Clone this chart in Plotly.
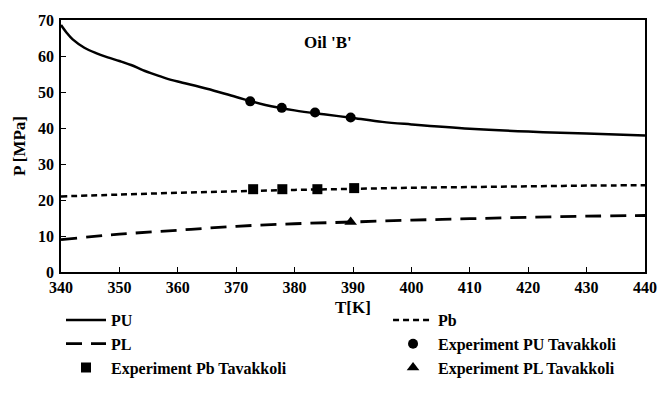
import plotly.graph_objects as go

# Model curves (temperature in K, pressure in MPa)
T_pu = [340, 341, 342, 344, 346, 348, 350, 352, 354, 356, 358, 360, 365, 370,
        375, 380, 385, 390, 395, 400, 410, 420, 430, 440]
PU = [68.6, 66.4, 64.6, 62.3, 60.8, 59.6, 58.6, 57.5, 56.1, 54.9, 53.8, 52.9,
      50.9, 48.6, 46.4, 44.9, 43.8, 42.8, 41.7, 41.0, 39.8, 39.0, 38.5, 37.9]

T_lin = [340, 350, 360, 370, 380, 390, 400, 410, 420, 430, 440]
Pb = [21.0, 21.5, 22.0, 22.4, 22.8, 23.1, 23.4, 23.6, 23.8, 24.0, 24.1]
PL = [9.0, 10.5, 11.6, 12.7, 13.4, 13.9, 14.4, 14.8, 15.2, 15.5, 15.7]

# Experimental points (Tavakkoli)
T_exp_pu = [372.4, 377.8, 383.5, 389.6]
P_exp_pu = [47.4, 45.6, 44.3, 42.9]
T_exp_pb = [372.9, 377.9, 383.9, 390.2]
P_exp_pb = [23.0, 23.0, 23.0, 23.3]
T_exp_pl = [389.6]
P_exp_pl = [13.9]

x_ticks = list(range(340, 441, 10))
y_ticks = list(range(0, 71, 10))

FONT = "Liberation Serif"


def bold(size):
    return dict(family=FONT, size=size, color="black", weight="bold")


fig = go.Figure()
# left legend column: PU, PL, Experiment Pb; right column: Pb, Experiment PU, Experiment PL
fig.add_trace(go.Scatter(x=T_pu, y=PU, mode="lines", name="PU", legend="legend",
                         line=dict(color="black", width=2.5, shape="spline")))
fig.add_trace(go.Scatter(x=T_lin, y=Pb, mode="lines", name="Pb", legend="legend2",
                         line=dict(color="black", width=2.5, dash="6px,4px", shape="spline")))
fig.add_trace(go.Scatter(x=T_lin, y=PL, mode="lines", name="PL", legend="legend",
                         line=dict(color="black", width=2.8, dash="16px,9px", shape="spline")))
fig.add_trace(go.Scatter(x=T_exp_pu, y=P_exp_pu, mode="markers", legend="legend2",
                         name="Experiment PU Tavakkoli",
                         marker=dict(symbol="circle", size=10, color="black")))
fig.add_trace(go.Scatter(x=T_exp_pb, y=P_exp_pb, mode="markers", legend="legend",
                         name="Experiment Pb Tavakkoli",
                         marker=dict(symbol="square", size=10, color="black")))
fig.add_trace(go.Scatter(x=T_exp_pl, y=P_exp_pl, mode="markers", legend="legend2",
                         name="Experiment PL Tavakkoli",
                         marker=dict(symbol="triangle-up", size=11, color="black")))

axis_common = dict(showline=True, linecolor="black", linewidth=1.5, mirror=True,
                   ticks="inside", ticklen=5, tickwidth=1.2, tickcolor="black",
                   showgrid=False, zeroline=False, tickfont=bold(16))

fig.update_xaxes(range=[340, 440], tickvals=x_ticks, ticklabelstandoff=0,
                 **axis_common)
fig.update_yaxes(range=[0, 70], tickvals=y_ticks, ticklabelstandoff=2,
                 title=dict(text="P [MPa]", standoff=8, font=bold(17)),
                 **axis_common)

# x-axis title, set just under the tick labels
fig.add_annotation(x=0.5, y=0, xref="paper", yref="paper", text="T[K]",
                   xanchor="center", yanchor="top", yshift=-24,
                   showarrow=False, font=bold(17))

fig.add_annotation(x=385.7, y=63.8, xref="x", yref="y", text="Oil 'B'",
                   showarrow=False, font=bold(17))

legend_common = dict(orientation="v", yanchor="top", y=-0.123,
                     font=bold(16), bgcolor="rgba(0,0,0,0)", itemwidth=40,
                     tracegroupgap=0)

fig.update_layout(
    width=670, height=397,
    margin=dict(l=61, r=25, t=14, b=125),
    plot_bgcolor="white", paper_bgcolor="white",
    font=bold(16),
    legend=dict(x=0, xanchor="left", **legend_common),
    legend2=dict(x=0.56, xanchor="left", **legend_common),
)

fig.write_html("out.html")
